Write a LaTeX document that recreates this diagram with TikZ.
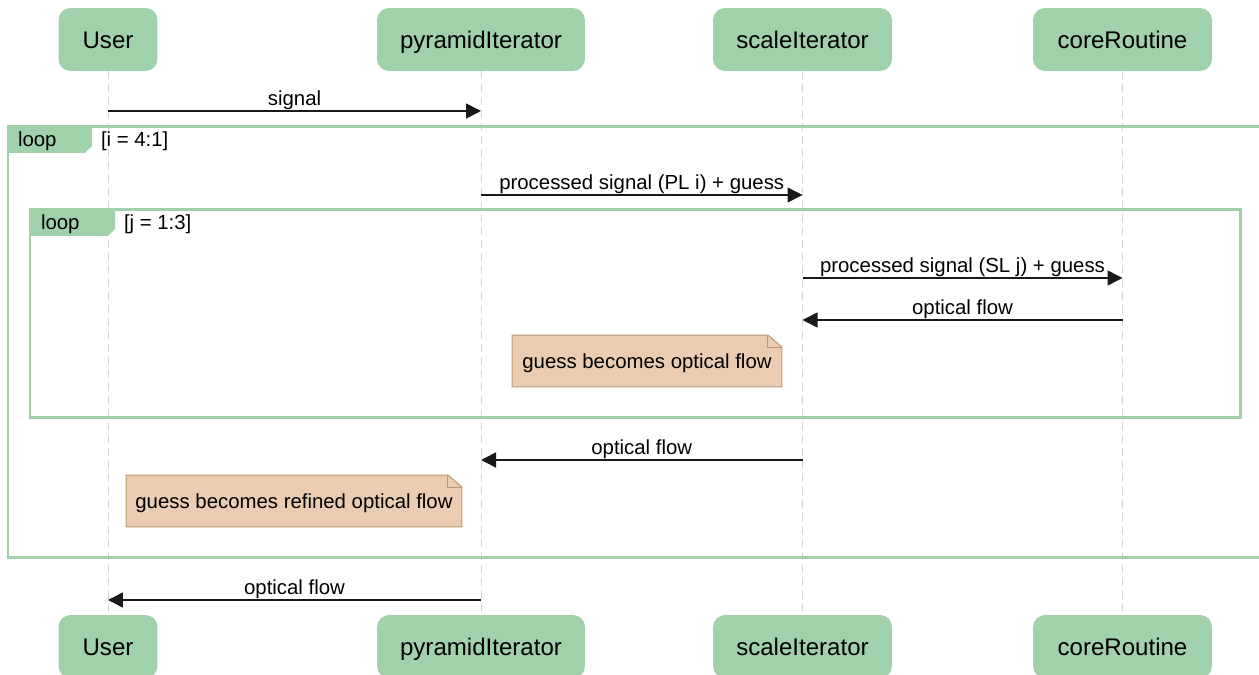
\documentclass[tikz,border=0pt]{standalone}
\usepackage{fontspec}
\setmainfont{Liberation Sans}
\usetikzlibrary{arrows.meta,backgrounds}
\definecolor{seqgreen}{RGB}{161,209,171}
\definecolor{notefill}{RGB}{233,204,177}
\definecolor{notedraw}{RGB}{184,152,110}
\definecolor{lifegray}{RGB}{214,214,214}
\definecolor{msgblack}{RGB}{25,25,25}
\begin{document}
\begin{tikzpicture}[x=0.02cm,y=-0.02cm,inner sep=0pt,outer sep=0pt,
font=\fontsize{11.6}{14}\selectfont,
actor/.style={fill=seqgreen,rounded corners=0.24cm,minimum height=1.26cm,text height=0.45cm,text depth=0.08cm,font=\fontsize{13.7}{16}\selectfont},
lifeline/.style={draw=lifegray,line width=0.02cm,dash pattern=on 0.16cm off 0.1cm},
msg/.style={draw=msgblack,line width=0.03cm,-{Triangle[length=0.3cm,width=0.3cm]}},
msglabel/.style={above=1pt,midway},
frame/.style={draw=seqgreen,line width=0.06cm},
tab/.style={fill=seqgreen},
notebox/.style={minimum height=1.04cm,text height=0.36cm,text depth=0.07cm},
fold/.style={fill=notefill,draw=notedraw,line width=0.02cm}]
\clip (0,0) rectangle (1259,675);
% participants
\draw (108,39.5) node[actor,minimum width=1.98cm] (user) {User};
\draw (481,39.5) node[actor,minimum width=4.16cm] (pyr) {pyramidIterator};
\draw (802.5,39.5) node[actor,minimum width=3.58cm] (scale) {scaleIterator};
\draw (1122.5,39.5) node[actor,minimum width=3.58cm] (core) {coreRoutine};
\draw (108,646.5) node[actor,minimum width=1.98cm] (userB) {User};
\draw (481,646.5) node[actor,minimum width=4.16cm] (pyrB) {pyramidIterator};
\draw (802.5,646.5) node[actor,minimum width=3.58cm] (scaleB) {scaleIterator};
\draw (1122.5,646.5) node[actor,minimum width=3.58cm] (coreB) {coreRoutine};
\begin{scope}[on background layer]
\foreach \a in {user,pyr,scale,core}
  \draw[lifeline] (\a.south) -- (\a B.north);
\end{scope}
% loop frames
\draw[frame] (8,127) rectangle (1275,558);
\fill[tab] (8,127) -- (92,127) -- (92,146) -- (85,153) -- (8,153) -- cycle;
\draw (18,141) node[anchor=west] (loopi) {loop};
\draw (101,141) node[anchor=west] (condi) {[i = 4:1]};
\draw[frame] (30,210) rectangle (1240,418);
\fill[tab] (30,210) -- (115,210) -- (115,229) -- (108,236) -- (30,236) -- cycle;
\draw (41,224) node[anchor=west] (loopj) {loop};
\draw (124,224) node[anchor=west] (condj) {[j = 1:3]};
% messages
\coordinate (m1) at (0,111);
\coordinate (m2) at (0,195);
\coordinate (m3) at (0,278);
\coordinate (m4) at (0,320);
\coordinate (m5) at (0,460);
\coordinate (m6) at (0,600);
\draw[msg] (user |- m1) -- (pyr |- m1) node[msglabel] {signal};
\draw[msg] (pyr |- m2) -- (scale |- m2) node[msglabel] {processed signal (PL i) + guess};
\draw[msg] (scale |- m3) -- (core |- m3) node[msglabel] {processed signal (SL j) + guess};
\draw[msg] (core |- m4) -- (scale |- m4) node[msglabel] {optical flow};
\draw[msg] (scale |- m5) -- (pyr |- m5) node[msglabel] {optical flow};
\draw[msg] (pyr |- m6) -- (user |- m6) node[msglabel] {optical flow};
% notes
\draw (647,361) node[notebox,minimum width=5.4cm] (note1) {guess becomes optical flow};
\draw (294,501) node[notebox,minimum width=6.72cm] (note2) {guess becomes refined optical flow};
\begin{scope}[on background layer]
\foreach \n in {note1,note2} {
  \draw[fold] (\n.south west) -- (\n.north west) -- ([xshift=-0.28cm]\n.north east)
    -- ([yshift=-0.24cm]\n.north east) -- (\n.south east) -- cycle;
  \draw[fold,fill=none] ([xshift=-0.28cm]\n.north east) |- ([yshift=-0.24cm]\n.north east);
}
\end{scope}
\end{tikzpicture}
\end{document}
